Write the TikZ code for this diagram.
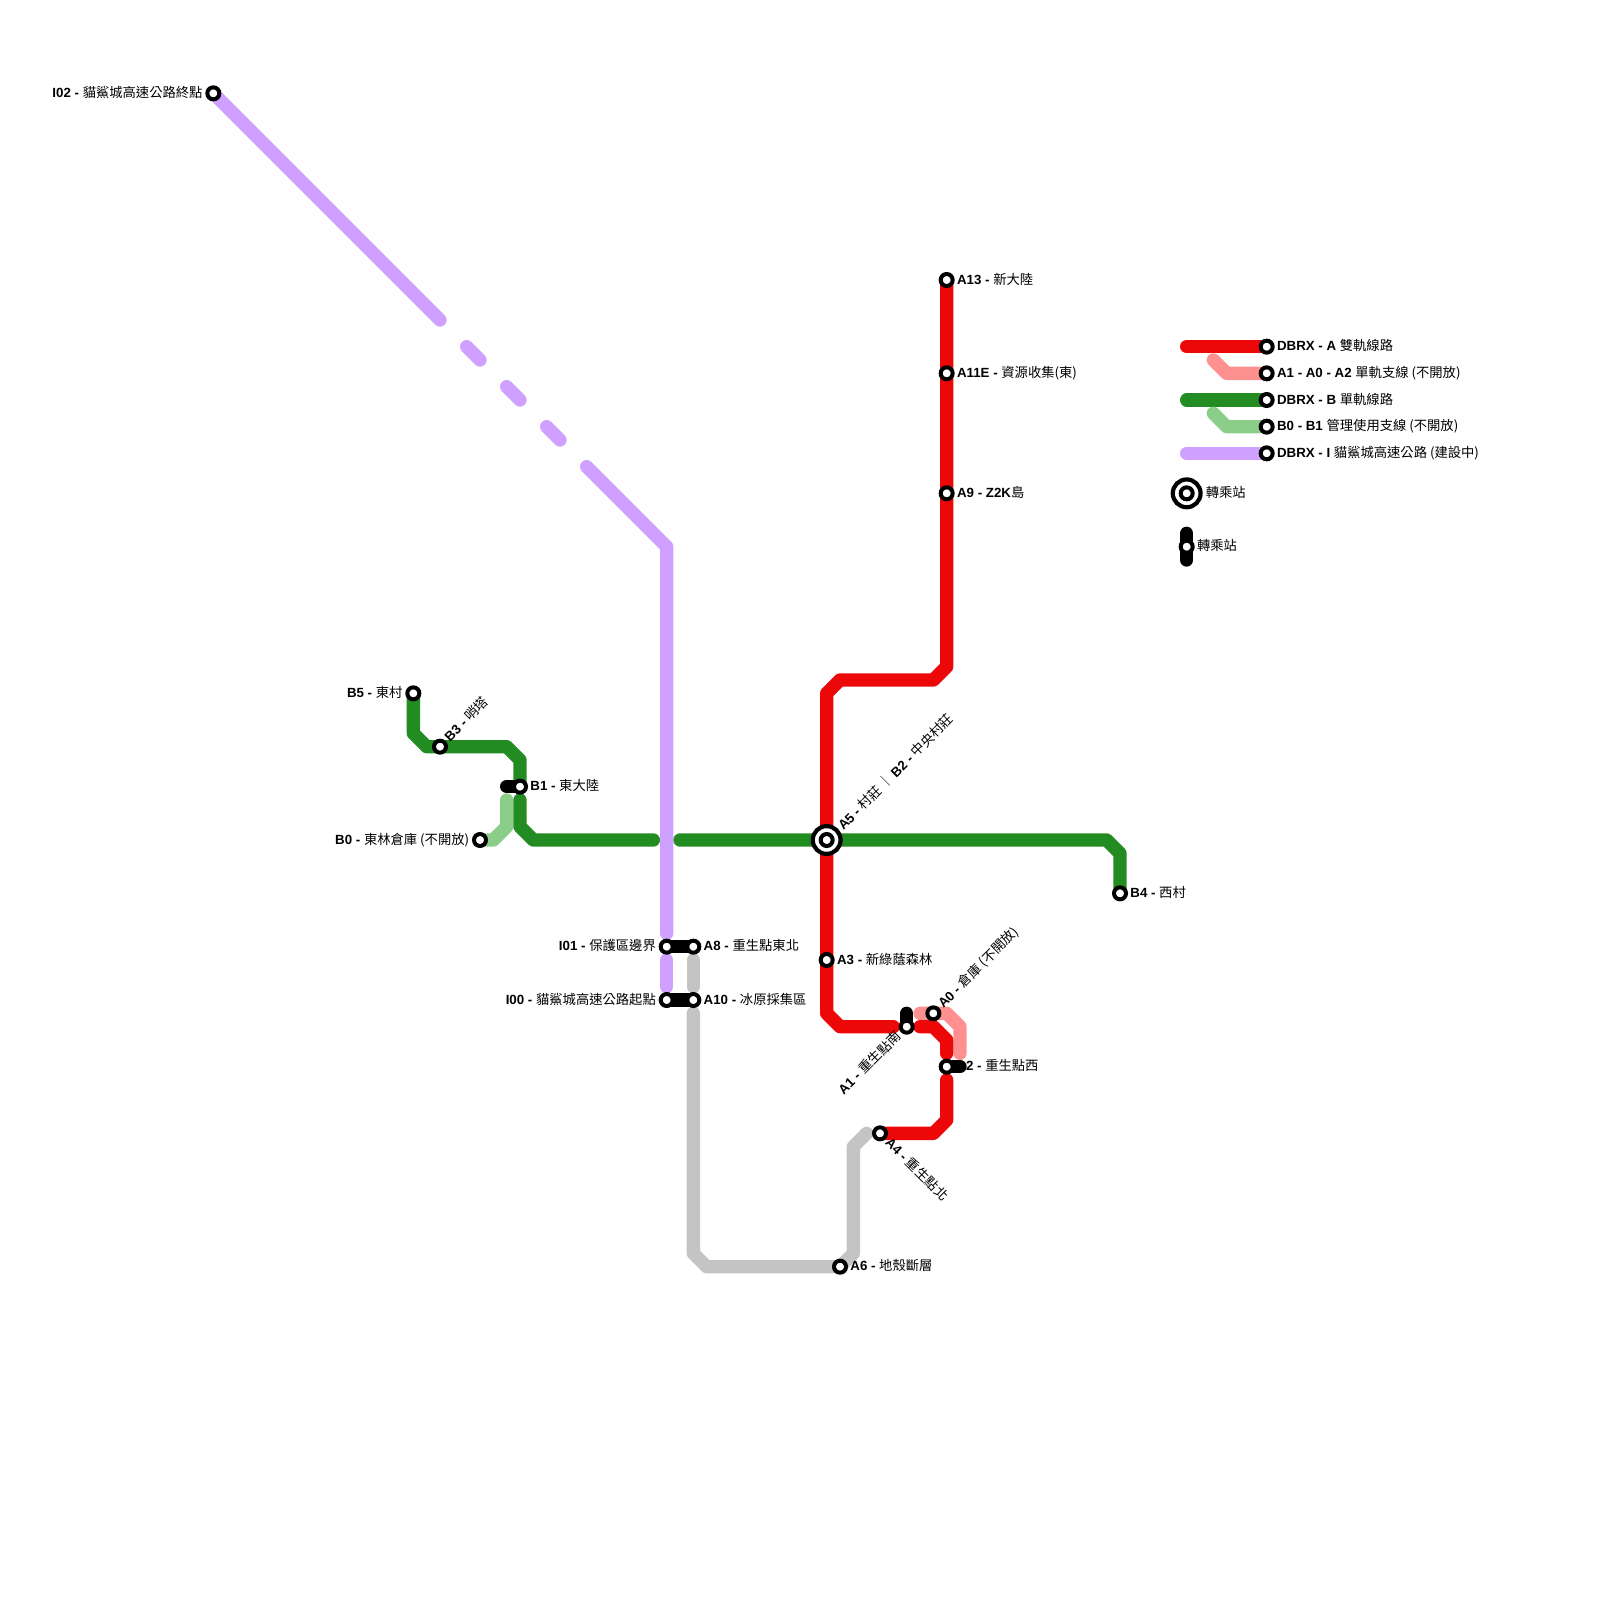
\documentclass[tikz,border=0pt]{standalone}
\usepackage{fontspec}
\setmainfont{Liberation Sans}
\newfontfamily\cjk{Noto Sans CJK TC}
\usetikzlibrary{backgrounds}
\definecolor{linered}{HTML}{EC0808}
\definecolor{linepink}{HTML}{FF9090}
\definecolor{linegreen}{HTML}{228B22}
\definecolor{linemint}{HTML}{8ACE8A}
\definecolor{linepurple}{HTML}{CFA0FF}
\definecolor{linegrey}{HTML}{C4C4C4}
\newcommand{\stopname}[2]{{\bfseries #1} {\cjk #2}}
\begin{document}
\begin{tikzpicture}
    [
        x=13.333pt, y=-13.333pt,
        font=\fontsize{13.3}{15}\selectfont,
        track/.style={line width=13.333pt, line cap=round, line join=round},
        tracka/.style={track, linered},
        trackpink/.style={track, linepink},
        trackb/.style={track, linegreen},
        trackmint/.style={track, linemint},
        tracki/.style={track, linepurple},
        trackgrey/.style={track, linegrey},
        transfer/.style={track, black},
        station/.style={circle, draw=black, fill=white, line width=4pt, inner sep=0pt, minimum size=12pt},
        hub/.style={circle, draw=black, fill=white, line width=4.2pt, inner sep=0pt, minimum size=27.8pt},
        namer/.style={rotate=#1, anchor=base west, inner sep=0pt, xshift=10.2pt, yshift=-4pt},
        namer/.default=0,
        namel/.style={rotate=#1, anchor=base east, inner sep=0pt, xshift=-10.67pt, yshift=-4pt},
        namel/.default=0,
    ]
    \useasboundingbox (0,0) rectangle (120,120);

    \node (a13) at (71,21) [station] {};
    \node (a11e) at (71,28) [station] {};
    \node (a9) at (71,37) [station] {};
    \node (a5hub) at (62,63) [hub] {};
    \node (a5) at (62,63) [station] {};
    \node (a3) at (62,72) [station] {};
    \node (a1) at (68,77) [station] {};
    \node (a0) at (70,76) [station] {};
    \node (a2) at (71,80) [station] {};
    \node (a4) at (66,85) [station] {};
    \node (a6) at (63,95) [station] {};
    \node (a8) at (52,71) [station] {};
    \node (a10) at (52,75) [station] {};
    \node (i00) at (50,75) [station] {};
    \node (i01) at (50,71) [station] {};
    \node (i02) at (16,7) [station] {};
    \node (b5) at (31,52) [station] {};
    \node (b3) at (33,56) [station] {};
    \node (b1) at (39,59) [station] {};
    \node (b0) at (36,63) [station] {};
    \node (b4) at (84,67) [station] {};
    \node (keya) at (95,26) [station] {};
    \node (keypink) at (95,28) [station] {};
    \node (keyb) at (95,30) [station] {};
    \node (keymint) at (95,32) [station] {};
    \node (keyi) at (95,34) [station] {};
    \node (keyhubo) at (89,37) [hub] {};
    \node (keyhub) at (89,37) [station] {};
    \node (keybar) at (89,41) [station] {};

    \coordinate (ia) at (33,24);
    \coordinate (ib) at (35,26);
    \coordinate (ic) at (36,27);
    \coordinate (id) at (38,29);
    \coordinate (ie) at (39,30);
    \coordinate (if) at (41,32);
    \coordinate (ig) at (42,33);
    \coordinate (ih) at (44,35);
    \coordinate (ii) at (50,70);
    \coordinate (ij) at (50,72);
    \coordinate (ik) at (50,74);
    \coordinate (ba) at (39,60);
    \coordinate (bb) at (49,63);
    \coordinate (bc) at (51,63);
    \coordinate (bd) at (38,60);
    \coordinate (ra) at (67,77);
    \coordinate (rb) at (69,77);
    \coordinate (rc) at (71,79);
    \coordinate (rd) at (71,81);
    \coordinate (pa) at (69,76);
    \coordinate (pb) at (72,79);
    \coordinate (ga) at (52,72);
    \coordinate (gb) at (52,74);
    \coordinate (gc) at (52,76);
    \coordinate (gd) at (65,85);
    \coordinate (xa) at (68,76);
    \coordinate (xb) at (72,80);
    \coordinate (xc) at (38,59);
    \coordinate (xd) at (89,40);
    \coordinate (xe) at (89,42);
    \coordinate (ka) at (89,26);
    \coordinate (kb) at (91,27);
    \coordinate (kc) at (89,30);
    \coordinate (kd) at (91,31);
    \coordinate (ke) at (89,34);

    \begin{scope}[on background layer]
        \draw [tracki] (i02.center) -- (ia);
        \draw [tracki] (ib) -- (ic);
        \draw [tracki] (id) -- (ie);
        \draw [tracki] (if) -- (ig);
        \draw [tracki] (ih) -- (50,41) -- (ii);
        \draw [tracki] (ij) -- (ik);
        \draw [trackgrey] (ga) -- (gb);
        \draw [trackgrey] (gc) -- (52,94) -- (53,95) -- (a6.center) -- (64,94) -- (64,86) -- (gd);
        \draw [trackmint] (b0.center) -- (37,63) -- (38,62) -- (bd);
        \draw [trackb] (b5.center) -- (31,55) -- (32,56) -- (b3.center) -- (38,56) -- (39,57) -- (b1.center);
        \draw [trackb] (ba) -- (39,62) -- (40,63) -- (bb);
        \draw [tracka] (a13.center) -- (a11e.center) -- (a9.center) -- (71,50) -- (70,51) -- (63,51) -- (62,52) -- (a5.center) -- (a3.center) -- (62,76) -- (63,77) -- (ra);
        \draw [trackb] (bc) -- (a5.center) -- (83,63) -- (84,64) -- (b4.center);
        \draw [trackpink] (pa) -- (a0.center) -- (71,76) -- (72,77) -- (pb);
        \draw [tracka] (rb) -- (70,77) -- (71,78) -- (rc);
        \draw [tracka] (rd) -- (71,84) -- (70,85) -- (a4.center);
        \draw [transfer] (i01.center) -- (a8.center);
        \draw [transfer] (i00.center) -- (a10.center);
        \draw [transfer] (a1.center) -- (xa);
        \draw [transfer] (a2.center) -- (xb);
        \draw [transfer] (b1.center) -- (xc);
        \draw [transfer] (xd) -- (xe);
        \draw [tracka] (ka) -- (keya.center);
        \draw [trackpink] (kb) -- (92,28) -- (keypink.center);
        \draw [trackb] (kc) -- (keyb.center);
        \draw [trackmint] (kd) -- (92,32) -- (keymint.center);
        \draw [tracki] (ke) -- (keyi.center);
    \end{scope}

    \node (a13t) at (a13.center) [namer] {\stopname{A13 -}{新大陸}};
    \node (a11et) at (a11e.center) [namer] {\stopname{A11E -}{資源收集(東)}};
    \node (a9t) at (a9.center) [namer] {{\bfseries A9 - Z2K}{\cjk 島}};
    \node (a5t) at (a5.center) [namer=45, xshift=8pt, yshift=-1.5pt] {\stopname{A5 -}{村莊 ｜ }\stopname{B2 -}{中央村莊}};
    \node (a3t) at (a3.center) [namer] {\stopname{A3 -}{新綠蔭森林}};
    \node (a1t) at (a1.center) [namel=45] {\stopname{A1 -}{重生點南}};
    \node (a0t) at (a0.center) [namer=45] {\stopname{A0 -}{倉庫 (不開放)}};
    \node (a2t) at (a2.center) [namer, xshift=9pt] {\stopname{2 -}{重生點西}};
    \node (a4t) at (a4.center) [namer=-45] {\stopname{A4 -}{重生點北}};
    \node (a6t) at (a6.center) [namer] {\stopname{A6 -}{地殼斷層}};
    \node (a8t) at (a8.center) [namer] {\stopname{A8 -}{重生點東北}};
    \node (a10t) at (a10.center) [namer] {\stopname{A10 -}{冰原採集區}};
    \node (i00t) at (i00.center) [namel] {\stopname{I00 -}{貓鯊城高速公路起點}};
    \node (i01t) at (i01.center) [namel] {\stopname{I01 -}{保護區邊界}};
    \node (i02t) at (i02.center) [namel] {\stopname{I02 -}{貓鯊城高速公路終點}};
    \node (b5t) at (b5.center) [namel] {\stopname{B5 -}{東村}};
    \node (b3t) at (b3.center) [namer=45] {\stopname{B3 -}{哨塔}};
    \node (b1t) at (b1.center) [namer] {\stopname{B1 -}{東大陸}};
    \node (b0t) at (b0.center) [namel] {\stopname{B0 -}{東林倉庫 (不開放)}};
    \node (b4t) at (b4.center) [namer] {\stopname{B4 -}{西村}};
    \node (keyat) at (keya.center) [namer] {\stopname{DBRX - A}{雙軌線路}};
    \node (keypinkt) at (keypink.center) [namer] {\stopname{A1 - A0 - A2}{單軌支線 (不開放)}};
    \node (keybt) at (keyb.center) [namer] {\stopname{DBRX - B}{單軌線路}};
    \node (keymintt) at (keymint.center) [namer] {\stopname{B0 - B1}{管理使用支線 (不開放)}};
    \node (keyit) at (keyi.center) [namer] {\stopname{DBRX - I}{貓鯊城高速公路 (建設中)}};
    \node (keyhubt) at (keyhub.center) [namer, xshift=8.7pt] {\cjk 轉乘站};
    \node (keybart) at (keybar.center) [namer] {\cjk 轉乘站};
\end{tikzpicture}
\end{document}
